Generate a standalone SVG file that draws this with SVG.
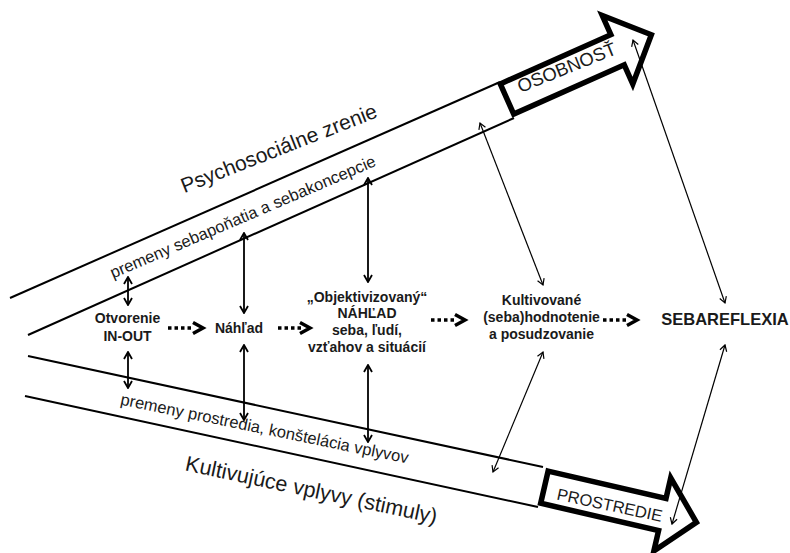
<svg xmlns="http://www.w3.org/2000/svg" width="790" height="553" viewBox="0 0 790 553">
<defs>
<style>
.band{stroke:#000;stroke-width:2;fill:none}
.big{fill:#fff;stroke:#000;stroke-width:5.5;stroke-linejoin:miter;stroke-miterlimit:10}
.lbl{font-family:"Liberation Sans",Arial,sans-serif;fill:#1a1a1a;text-anchor:middle}
.node{font-family:"Liberation Sans",Arial,sans-serif;font-weight:bold;font-size:14px;fill:#1a1a1a;text-anchor:middle}
.conn{stroke:#000;stroke-width:1.8;fill:none}
.thin{stroke:#000;stroke-width:1.2;fill:none}
.dots{stroke:#000;stroke-width:3.5;stroke-dasharray:3.5 3;fill:none}
.chev{stroke:#000;stroke-width:3.5;fill:none;stroke-linejoin:miter}
</style>
<marker id="ah" viewBox="0 0 10 10" refX="9" refY="5" markerWidth="10" markerHeight="10" markerUnits="userSpaceOnUse" orient="auto-start-reverse">
<path d="M2,1 L9,5 L2,9" fill="none" stroke="#000" stroke-width="1.8"/>
</marker>
<marker id="aht" viewBox="0 0 10 10" refX="9" refY="5" markerWidth="10" markerHeight="10" markerUnits="userSpaceOnUse" orient="auto-start-reverse">
<path d="M3,1.5 L9,5 L3,8.5" fill="none" stroke="#000" stroke-width="1.2"/>
</marker>
</defs>
<rect width="790" height="553" fill="#fff"/>

<g id="bands">
<line class="band" x1="10" y1="298" x2="500" y2="82"/>
<line class="band" x1="28" y1="335" x2="514" y2="118"/>
<line class="band" x1="28" y1="356" x2="543" y2="467"/>
<line class="band" x1="25" y1="396" x2="538" y2="507"/>
</g>

<g id="band-labels">
<text class="lbl" font-size="21" transform="translate(281.5,155) rotate(-21.5)">Psychosociálne zrenie</text>
<text class="lbl" font-size="16.5" transform="translate(245,222) rotate(-23.2)">premeny sebapoňatia a sebakoncepcie</text>
<text class="lbl" font-size="16.5" transform="translate(263.5,434) rotate(11.6)">premeny prostredia, konštelácia vplyvov</text>
<text class="lbl" font-size="21.5" transform="translate(310,497) rotate(12)">Kultivujúce vplyvy (stimuly)</text>
</g>

<g id="osobnost">
<polygon class="big" transform="translate(507,99) rotate(-24)" points="0,-16.5 121,-16.5 121,-37.5 158,0 121,37.5 121,16.5 0,16.5"/>
<text class="lbl" font-size="18.5" transform="translate(569,73.3) rotate(-22)">OSOBNOSŤ</text>
</g>

<g id="prostredie">
<polygon class="big" transform="translate(544.4,487.2) rotate(13)" points="0,-16.5 121,-16.5 121,-37.5 156,0 121,37.5 121,16.5 0,16.5"/>
<text class="lbl" font-size="16.5" transform="translate(608.5,510.7) rotate(12)">PROSTREDIE</text>
</g>

<g id="otvorenie">
<text class="node" x="127.5" y="323">Otvorenie</text>
<text class="node" x="127.5" y="340.5">IN-OUT</text>
</g>

<g id="nahlad">
<text class="node" x="239" y="333">Náhľad</text>
</g>

<g id="objektivizovany">
<text class="node" x="367" y="301.5">„Objektivizovaný“</text>
<text class="node" x="367" y="318.3">NÁHĽAD</text>
<text class="node" x="367" y="335">seba, ľudí,</text>
<text class="node" x="367" y="351.7">vzťahov a situácií</text>
</g>

<g id="kultivovane">
<text class="node" x="541.5" y="305">Kultivované</text>
<text class="node" x="541.5" y="322">(seba)hodnotenie</text>
<text class="node" x="541.5" y="339">a posudzovanie</text>
</g>

<g id="sebareflexia">
<text class="node" font-size="16.5" x="725" y="325" style="font-size:16.5px">SEBAREFLEXIA</text>
</g>

<g id="connectors">
<line class="conn" x1="128" y1="277" x2="128" y2="305" marker-start="url(#ah)" marker-end="url(#ah)"/>
<line class="conn" x1="128" y1="352" x2="128" y2="388" marker-start="url(#ah)" marker-end="url(#ah)"/>
<line class="conn" x1="244" y1="233" x2="244" y2="313" marker-start="url(#ah)" marker-end="url(#ah)"/>
<line class="conn" x1="244" y1="345" x2="244" y2="420" marker-start="url(#ah)" marker-end="url(#ah)"/>
<line class="conn" x1="368" y1="178" x2="368" y2="282" marker-start="url(#ah)" marker-end="url(#ah)"/>
<line class="conn" x1="368" y1="365" x2="368" y2="442" marker-start="url(#ah)" marker-end="url(#ah)"/>
<line class="thin" x1="480" y1="123" x2="543" y2="285" marker-start="url(#aht)" marker-end="url(#aht)"/>
<line class="thin" x1="543" y1="352" x2="493" y2="472" marker-start="url(#aht)" marker-end="url(#aht)"/>
<line class="thin" x1="633" y1="40" x2="725" y2="303" marker-start="url(#aht)" marker-end="url(#aht)"/>
<line class="thin" x1="725" y1="345" x2="672" y2="524" marker-start="url(#aht)" marker-end="url(#aht)"/>

<line class="dots" x1="168" y1="328" x2="192" y2="328"/>
<polyline class="chev" points="193,322.5 203,328 193,333.5"/>
<line class="dots" x1="278" y1="328" x2="301" y2="328"/>
<polyline class="chev" points="300,322.5 310,328 300,333.5"/>
<line class="dots" x1="431" y1="320" x2="455" y2="320"/>
<polyline class="chev" points="455,314.5 465,320 455,325.5"/>
<line class="dots" x1="603" y1="320" x2="627" y2="320"/>
<polyline class="chev" points="627,314.5 637,320 627,325.5"/>
</g>
</svg>
